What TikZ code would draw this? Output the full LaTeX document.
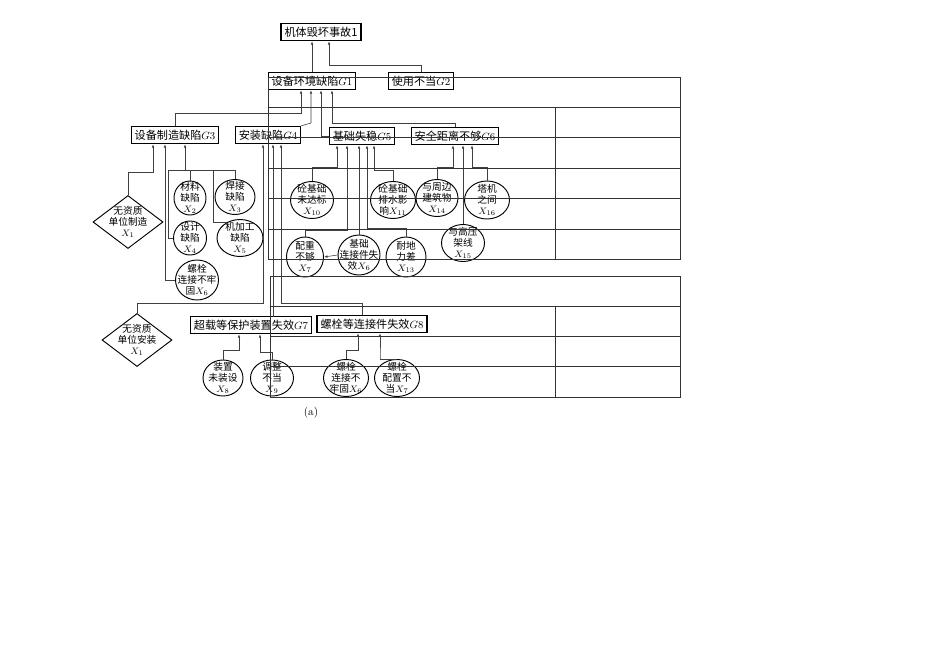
\documentclass[tikz,border=0pt]{standalone}
\usepackage{fontspec}
\newfontfamily\cjk{Noto Sans CJK SC}
\usetikzlibrary{shapes.geometric,arrows.meta}

\tikzset{
  gate/.style={draw, line width=0.9pt, inner xsep=3pt, inner ysep=1pt,
    minimum height=0.52cm, font=\cjk\fontsize{9.5}{10}\selectfont},
  basic/.style 2 args={ellipse, draw, line width=0.8pt, inner sep=0pt,
    minimum width=#1*0.03cm, minimum height=#2*0.03cm},
  cond/.style={diamond, draw, line width=0.8pt, inner sep=0pt,
    minimum width=70*0.03cm, minimum height=53*0.03cm},
  txt/.style={align=center, inner sep=0pt, font=\cjk\fontsize{8.3}{9.3}\selectfont},
  link/.style={draw, black!75, line width=0.5pt, -{Latex[length=3pt,width=2.2pt]}},
  line/.style={draw, black!75, line width=0.5pt},
  grid/.style={draw, black!80, line width=0.6pt}
}

\begin{document}
\begin{tikzpicture}[x=0.03cm, y=-0.03cm]
  \useasboundingbox (0,0) rectangle (950,672);

  \node[gate] (T)  at (321,32)  {机体毁坏事故1};
  \node[gate] (G1) at (312,81)  {设备环境缺陷$G1$};
  \node[gate] (G2) at (421,81)  {使用不当$G2$};
  \node[gate] (G3) at (175,135) {设备制造缺陷$G3$};
  \node[gate] (G4) at (268,135) {安装缺陷$G4$};
  \node[gate] (G5) at (362,136) {基础失稳$G5$};
  \node[gate] (G6) at (455,136) {安全距离不够$G6$};
  \node[gate] (G7) at (251,325) {超载等保护装置失效$G7$};
  \node[gate] (G8) at (372,324) {螺栓等连接件失效$G8$};

  \node[cond, label={[txt]center:{无资质\\单位制造\\$X_1$}}] (D1) at (128,222) {};
  \node[cond, label={[txt]center:{无资质\\单位安装\\$X_1$}}] (D2) at (137,340) {};

  \node[basic={32}{34}, label={[txt]center:{材料\\缺陷\\$X_2$}}] (X2) at (190,198) {};
  \node[basic={40}{35}, label={[txt]center:{焊接\\缺陷\\$X_3$}}] (X3) at (235,197) {};
  \node[basic={33}{34}, label={[txt]center:{设计\\缺陷\\$X_4$}}] (X4) at (190,238) {};
  \node[basic={46}{37}, label={[txt]center:{机加工\\缺陷\\$X_5$}}] (X5) at (240,238) {};
  \node[basic={43}{40}, label={[txt]center:{螺栓\\连接不牢\\固$X_6$}}] (X6a) at (197,280) {};

  \node[basic={43}{37}, label={[txt]center:{砼基础\\未达标\\$X_{10}$}}] (X10) at (312,200) {};
  \node[basic={45}{37}, label={[txt]center:{砼基础\\排水影\\响$X_{11}$}}] (X11) at (393,200) {};
  \node[basic={42}{37}, label={[txt]center:{与周边\\建筑物\\$X_{14}$}}] (X14) at (437,198) {};
  \node[basic={45}{38}, label={[txt]center:{塔机\\之间\\$X_{16}$}}] (X16) at (487,200) {};
  \node[basic={43}{37}, label={[txt]center:{与高压\\架线\\$X_{15}$}}] (X15) at (463,243) {};
  \node[basic={37}{40}, label={[txt]center:{配重\\不够\\$X_7$}}] (X7) at (305,257) {};
  \node[basic={42}{40}, label={[txt]center:{基础\\连接件失\\效$X_6$}}] (X6) at (359,255) {};
  \node[basic={40}{40}, label={[txt]center:{耐地\\力差\\$X_{13}$}}] (X13) at (406,257) {};

  \node[basic={40}{36}, label={[txt]center:{装置\\未装设\\$X_8$}}] (X8) at (223,378) {};
  \node[basic={43}{36}, label={[txt]center:{调整\\不当\\$X_9$}}] (X9) at (272,378) {};
  \node[basic={45}{37}, label={[txt]center:{螺栓\\连接不\\牢固$X_6$}}] (X6b) at (346,378) {};
  \node[basic={45}{37}, label={[txt]center:{螺栓\\配置不\\当$X_7$}}] (X7b) at (397,378) {};

  \node[font=\fontsize{9.5}{10}\selectfont] (cap) at (311,413) {(a)};

  \coordinate (c2) at (329,65);
  \coordinate (c3) at (301,113);
  \coordinate (c4) at (311,123);
  \coordinate (c5) at (321,136);
  \coordinate (c6) at (332,123);
  \draw[link] (G1.north) -- (G1.north |- T.south);
  \draw[link] (G2.north) |- (c2) -- (c2 |- T.south);
  \draw[link] (G3.north) |- (c3) -- (c3 |- G1.south);
  \draw[link] (G4.north east) -- (c4) -- (c4 |- G1.south);
  \draw[link] (G5.west) -- (c5) -- (c5 |- G1.south);
  \draw[link] (G6.north) |- (c6) -- (c6 |- G1.south);

  \coordinate (a1) at (153,172);
  \coordinate (a2) at (165,280);
  \coordinate (a3) at (185,170);
  \coordinate (bl) at (168,170);
  \coordinate (bm) at (213,170);
  \coordinate (br) at (235,170);
  \draw[link] (D1.north) |- (a1) -- (a1 |- G3.south);
  \draw[link] (X6a.west) -- (a2) -- (a2 |- G3.south);
  \draw[link] (a3) -- (a3 |- G3.south);
  \draw[line] (X4.west) -| (bl) -- (br) -- (X3.north);
  \draw[line] (X2.north) -- (X2.north |- a3);
  \draw[line] (bm) |- (X5.130);

  \coordinate (d1) at (263,303);
  \coordinate (d2) at (273,317);
  \coordinate (d3) at (281,303);
  \coordinate (d4) at (362,303);
  \draw[link] (D2.north) |- (d1) -- (d1 |- G4.south);
  \draw[link] (d2) -- (d2 |- G4.south);
  \draw[link] (d4 |- G8.north) -- (d4) -- (d3) -- (d3 |- G4.south);

  \coordinate (e1) at (337,167);
  \coordinate (e2) at (347,230);
  \coordinate (e3) at (367,228);
  \coordinate (e4) at (374,170);
  \draw[link] (X10.north) |- (e1) -- (e1 |- G5.south);
  \draw[link] (X7.north) |- (e2) -- (e2 |- G5.south);
  \draw[link] (X6.north) -- (X6.north |- G5.south);
  \draw[link] (X13.north) |- (e3) -- (e3 |- G5.south);
  \draw[link] (X11.north) |- (e4) -- (e4 |- G5.south);
  \draw[link] (X6.west) -- (X7.east);

  \coordinate (f1) at (453,167);
  \coordinate (f2) at (472,167);
  \draw[link] (X14.north) |- (f1) -- (f1 |- G6.south);
  \draw[link] (X15.north) -- (X15.north |- G6.south);
  \draw[link] (X16.north) |- (f2) -- (f2 |- G6.south);

  \coordinate (g1) at (239,350);
  \coordinate (g2) at (260,352);
  \coordinate (h1) at (358,350);
  \coordinate (h2) at (380,360);
  \draw[link] (X8.north) |- (g1) -- (g1 |- G7.south);
  \draw[link] (X9.north) |- (g2) -- (g2 |- G7.south);
  \draw[link] (X6b.north) |- (h1) -- (h1 |- G8.south);
  \draw[link] (X7b.north) -| (h2) -- (h2 |- G8.south);

  \draw[grid] (268,77) rectangle (680,259);
  \foreach \y in {107,137,168,198,229}
    \draw[grid] (268,\y) -- (680,\y);
  \draw[grid] (555,107) -- (555,259);

  \draw[grid] (270,276) rectangle (680,397);
  \foreach \y in {306,336,366}
    \draw[grid] (270,\y) -- (680,\y);
  \draw[grid] (555,306) -- (555,397);
\end{tikzpicture}
\end{document}
